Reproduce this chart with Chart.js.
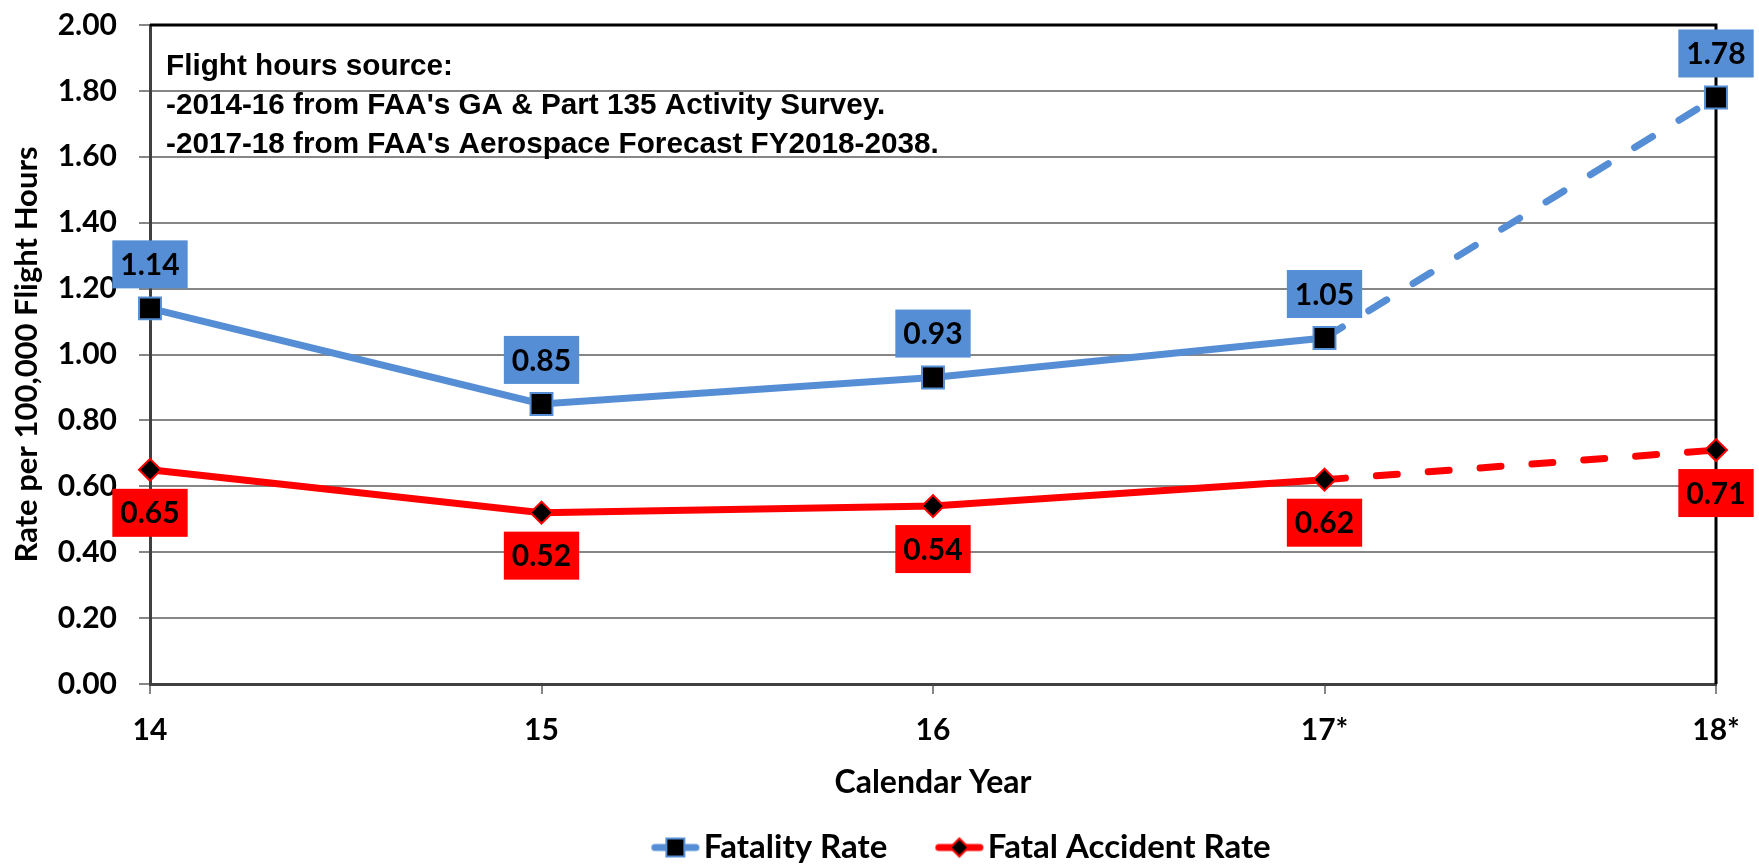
<!DOCTYPE html>
<html>
<head>
<meta charset="utf-8">
<script src="https://cdn.jsdelivr.net/npm/chart.js@4.4.1/dist/chart.umd.min.js"></script>
<style>
  html, body { margin: 0; padding: 0; background: #fff; }
  .chart-wrapper { width: 1759px; height: 867px; position: relative; }
</style>
</head>
<body>
<div class="chart-wrapper"><canvas id="chart"></canvas></div>
<script>
// data
const years = ['14', '15', '16', '17*', '18*'];
const fatalityRate = [1.14, 0.85, 0.93, 1.05, 1.78];
const fatalAccidentRate = [0.65, 0.52, 0.54, 0.62, 0.71];
const yTicks = [0, 0.2, 0.4, 0.6, 0.8, 1.0, 1.2, 1.4, 1.6, 1.8, 2.0];
const sourceNote = [
  'Flight hours source:',
  "-2014-16 from FAA's GA & Part 135 Activity Survey.",
  "-2017-18 from FAA's Aerospace Forecast FY2018-2038."
];

const BLUE = '#558ED5';
const RED = '#FF0000';
const LABEL_FONT = 'Lato';

// small line+marker images for the legend, like the excel ones
const legendSwatch = (color, shape) => {
  const c = document.createElement('canvas');
  c.width = 56; c.height = 24;
  const g = c.getContext('2d');
  g.strokeStyle = color; g.lineWidth = 7; g.lineCap = 'round';
  g.beginPath(); g.moveTo(7.5, 12); g.lineTo(48.5, 12); g.stroke();
  g.fillStyle = '#000'; g.strokeStyle = color; g.lineWidth = 2;
  g.beginPath();
  if (shape === 'rect') {
    g.rect(19, 3, 18, 18);
  } else {
    g.moveTo(28, 3); g.lineTo(37, 12); g.lineTo(28, 21); g.lineTo(19, 12); g.closePath();
  }
  g.fill(); g.stroke();
  return c;
};

// value boxes above / below each point
const valueBoxes = {
  id: 'valueBoxes',
  afterDatasetsDraw(chart) {
    const ctx = chart.ctx;
    ctx.save();
    ctx.font = `bold 30px ${LABEL_FONT}`;
    ctx.textAlign = 'center';
    ctx.textBaseline = 'middle';
    chart.data.datasets.forEach((ds, i) => {
      const meta = chart.getDatasetMeta(i);
      meta.data.forEach((pt, j) => {
        const text = ds.data[j].toFixed(2);
        const w = ctx.measureText(text).width + 16;
        const h = 48;
        const cy = pt.y + ds.boxOffset;
        ctx.fillStyle = ds.boxColor;
        ctx.fillRect(pt.x - w / 2, cy - h / 2, w, h);
        ctx.fillStyle = '#000';
        ctx.fillText(text, pt.x, cy + 1);
      });
    });
    ctx.restore();
  }
};

// black frame on top and right of plot area + note text
const plotFrame = {
  id: 'plotFrame',
  afterLayout(chart) {
    // excel centres the legend a bit right of the plot middle
    chart.legend.left += 34;
    chart.legend.right += 34;
  },
  beforeDatasetsDraw(chart) {
    const {ctx, chartArea: a} = chart;
    ctx.save();
    ctx.strokeStyle = '#000';
    ctx.lineWidth = 3;
    ctx.beginPath();
    ctx.moveTo(a.left, a.top);
    ctx.lineTo(a.right, a.top);
    ctx.lineTo(a.right, a.bottom);
    ctx.stroke();

    ctx.fillStyle = '#000';
    ctx.font = 'bold 29.7px "Liberation Sans"';
    ctx.textAlign = 'left';
    ctx.textBaseline = 'middle';
    sourceNote.forEach((line, k) => {
      ctx.fillText(line, a.left + 16, a.top + 42 + k * 39);
    });
    ctx.restore();
  }
};

const tickFont = {family: LABEL_FONT, weight: 'bold', size: 30};
const titleFont = {family: LABEL_FONT, weight: 'bold', size: 32};
const dashAfter17 = ctx => ctx.p0DataIndex >= 3 ? [21, 31] : undefined;

new Chart(document.getElementById('chart'), {
  type: 'line',
  data: {
    labels: years,
    datasets: [
      {
        label: 'Fatality Rate',
        data: fatalityRate,
        borderColor: BLUE,
        borderWidth: 7,
        borderCapStyle: 'round',
        pointStyle: 'rect',
        pointRadius: 15.5,
        pointBackgroundColor: '#000',
        pointBorderColor: BLUE,
        pointBorderWidth: 2,
        boxColor: BLUE,
        boxOffset: -44,
        segment: { borderDash: dashAfter17 }
      },
      {
        label: 'Fatal Accident Rate',
        data: fatalAccidentRate,
        borderColor: RED,
        borderWidth: 7,
        borderCapStyle: 'round',
        pointStyle: 'rectRot',
        pointRadius: 11,
        pointBackgroundColor: '#000',
        pointBorderColor: RED,
        pointBorderWidth: 2,
        boxColor: RED,
        boxOffset: 43,
        segment: { borderDash: dashAfter17 }
      }
    ]
  },
  options: {
    responsive: true,
    maintainAspectRatio: false,
    animation: false,
    events: [],
    layout: { padding: { top: 7, right: 43, left: 0, bottom: -7 } },
    scales: {
      x: {
        offset: false,
        grid: { drawOnChartArea: false, drawTicks: true, tickLength: 10, color: '#868686', lineWidth: 2, offset: false },
        border: { color: '#404040', width: 3 },
        ticks: { font: tickFont, color: '#000', padding: 18, autoSkip: false, maxRotation: 0 },
        title: { display: true, text: 'Calendar Year', font: titleFont, color: '#000', padding: { top: 0, bottom: -31 } },
        afterFit: s => { s.height = 87; }
      },
      y: {
        min: 0,
        max: 2,
        afterBuildTicks: s => { s.ticks = yTicks.map(v => ({ value: v })); },
        grid: { color: '#868686', lineWidth: 2, tickLength: 11 },
        border: { color: '#404040', width: 3 },
        ticks: { font: tickFont, color: '#000', padding: 22, callback: v => Number(v).toFixed(2) },
        title: { display: true, text: 'Rate per 100,000 Flight Hours', font: { family: LABEL_FONT, weight: 'bold', size: 31 }, color: '#000', padding: { top: 8, bottom: 0 } },
        afterFit: s => { s.width = 150; s.paddingTop = 25; }
      }
    },
    plugins: {
      legend: {
        position: 'bottom',
        fullSize: false,
        labels: {
          usePointStyle: true,
          pointStyleWidth: 24,
          padding: 60,
          color: '#000',
          font: { family: LABEL_FONT, weight: 'bold', size: 33 },
          generateLabels: chart => Chart.defaults.plugins.legend.labels.generateLabels(chart).map((item, i) => {
            item.pointStyle = i === 0 ? legendSwatch(BLUE, 'rect') : legendSwatch(RED, 'diamond');
            item.lineWidth = 0;
            return item;
          })
        }
      },
      tooltip: { enabled: false }
    }
  },
  plugins: [plotFrame, valueBoxes]
});
</script>
</body>
</html>
